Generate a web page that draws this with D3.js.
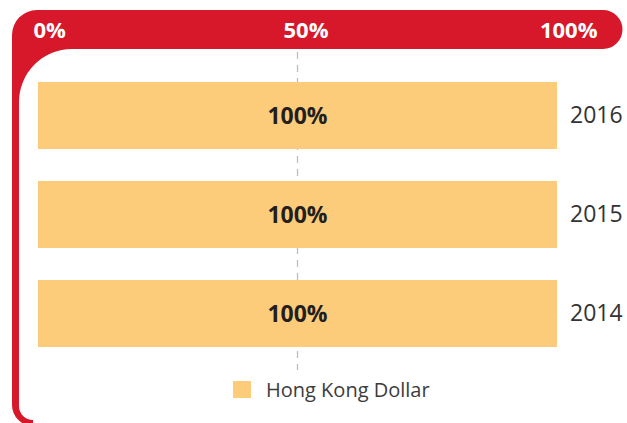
<!DOCTYPE html>
<html>
    <head>
        <title>Currency chart</title>
        <script src="https://d3js.org/d3.v7.min.js"></script>

        <style type="text/css">
        body { margin: 0; background: #fff; }
        svg text { font-family: "Open Sans", sans-serif; }
        .frame { fill: #d7182a; }
        .bar { fill: #fdcc7a; }
        .top-axis text { fill: #fff; font-size: 22px; font-weight: bold; }
        .year-axis text { fill: #333; font-size: 23px; }
        .value { fill: #231f20; font-size: 23px; font-weight: bold; }
        .midline { stroke: #bdbdbd; stroke-width: 1.3; stroke-dasharray: 7 6; }
        .legend-text { fill: #3c3c3c; font-size: 20px; }
        </style>

        <script type="text/javascript">

            var years = ["2016", "2015", "2014"];
            var hkdShare = [100, 100, 100];
            var tickValues = [0, 50, 100];
            var seriesName = "Hong Kong Dollar";

            function drawChart() {

              var svg = d3.select("body")
                          .append("svg")
                          .attr("width", 627)
                          .attr("height", 423);

              var x = d3.scaleLinear().domain([0, 100]).range([38, 557]);
              var y = d3.scaleBand().domain(years).range([82, 347]).paddingInner(0.323).paddingOuter(0);

              // red frame: top band with rounded ends, left arm down
              svg.append("path")
                  .attr("class", "frame")
                  .attr("d", "M12,35 A25,25 0 0 1 37,10 L603,10 A19.5,19.5 0 0 1 603,49 " +
                             "L72,49 A53,53 0 0 0 19,102 L19,406 A14,14 0 0 0 33,420 " +
                             "L33,426 A21,21 0 0 1 12,405 Z");

              // dashed 50% guide
              svg.append("line")
                  .attr("class", "midline")
                  .attr("x1", x(50)).attr("x2", x(50))
                  .attr("y1", 52).attr("y2", 370);

              // top axis labels
              var topAxis = svg.append("g")
                  .attr("class", "top-axis")
                  .attr("transform", "translate(0,30)")
                  .call(d3.axisTop(x).tickValues(tickValues).tickSize(0).tickPadding(0)
                          .tickFormat(function(d) { return d + "%"; }));
              topAxis.select(".domain").remove();
              topAxis.selectAll("text")
                  .attr("y", 0)
                  .attr("dy", "0.35em")
                  .attr("text-anchor", function(d) { return d == 0 ? "start" : (d == 100 ? "end" : "middle"); })
                  .attr("dx", function(d) { return d == 0 ? -5 : (d == 100 ? 40 : 8); });

              // bars
              svg.selectAll("rect.bar")
                  .data(hkdShare)
                  .enter()
                  .append("rect")
                  .attr("class", "bar")
                  .attr("x", x(0))
                  .attr("y", function(d, i) { return y(years[i]); })
                  .attr("width", function(d) { return x(d) - x(0); })
                  .attr("height", y.bandwidth());

              // value labels
              svg.selectAll("text.value")
                  .data(hkdShare)
                  .enter()
                  .append("text")
                  .attr("class", "value")
                  .attr("text-anchor", "middle")
                  .attr("x", function(d) { return x(d / 2); })
                  .attr("y", function(d, i) { return y(years[i]) + y.bandwidth() / 2; })
                  .attr("dy", "0.35em")
                  .text(function(d) { return d + "%"; });

              // year labels
              var yearAxis = svg.append("g")
                  .attr("class", "year-axis")
                  .attr("transform", "translate(" + x(100) + ",0)")
                  .call(d3.axisRight(y).tickSize(0).tickPadding(13));
              yearAxis.select(".domain").remove();

              // legend
              svg.append("rect")
                  .attr("class", "bar")
                  .attr("x", 233).attr("y", 381)
                  .attr("width", 18).attr("height", 17);
              svg.append("text")
                  .attr("class", "legend-text")
                  .attr("x", 266).attr("y", 389.5)
                  .attr("dy", "0.35em")
                  .text(seriesName);
            }

            window.onload = drawChart;

        </script>
    </head>

    <body>
    </body>
</html>
